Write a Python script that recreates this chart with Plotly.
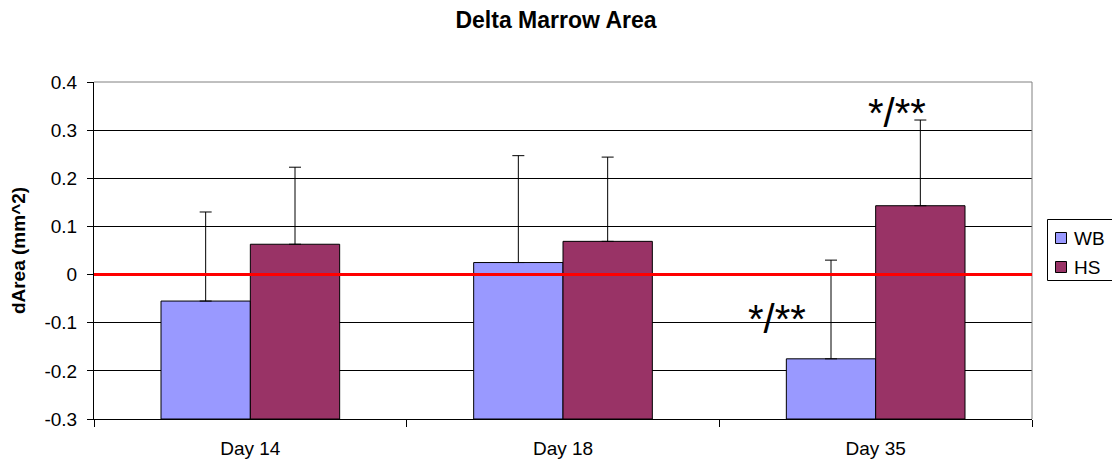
import plotly.graph_objects as go

# Delta marrow area per time point, two groups, with upper error bars
days = ["Day 14", "Day 18", "Day 35"]
wb_values = [-0.055, 0.025, -0.175]
hs_values = [0.063, 0.069, 0.143]
wb_errors = [0.185, 0.222, 0.205]
hs_errors = [0.160, 0.175, 0.178]

y_min, y_max = -0.3, 0.4
y_ticks = [-0.3, -0.2, -0.1, 0, 0.1, 0.2, 0.3, 0.4]
y_tick_labels = ["-0.3", "-0.2", "-0.1", "0", "0.1", "0.2", "0.3", "0.4"]

FONT = "Liberation Sans, Arial, sans-serif"
W, H = 1112, 467
M_L, M_R, M_T, M_B = 94, 80, 82, 48

series = [
    ("WB", wb_values, wb_errors, "#9999FF"),
    ("HS", hs_values, hs_errors, "#993366"),
]


# bars rise from the bottom of the value axis, as in the spreadsheet style
def heights(values):
    return [v - y_min for v in values]


# pixel position on the page -> paper coordinates
def px(x):
    return (x - M_L) / (W - M_L - M_R)


def py(y):
    return (H - M_B - y) / (H - M_T - M_B)


fig = go.Figure()
for name, vals, errs, color in series:
    fig.add_trace(go.Bar(
        name=name,
        x=days,
        y=heights(vals),
        base=[y_min] * len(vals),
        marker=dict(color=color, line=dict(color="black", width=1)),
        error_y=dict(type="data", symmetric=False, array=errs,
                     arrayminus=[0] * len(errs),
                     color="black", thickness=1, width=6),
        hoverinfo="skip",
        showlegend=False,
    ))

fig.update_layout(
    width=W, height=H,
    margin=dict(l=M_L, r=M_R, t=M_T, b=M_B, autoexpand=False),
    paper_bgcolor="white", plot_bgcolor="white",
    barmode="group", bargap=1.5 / 3.5, bargroupgap=0,
    font=dict(family=FONT, size=19, color="black"),
    title=dict(text="<b>Delta Marrow Area</b>", x=0.5, xanchor="center",
               y=0.957, yanchor="middle", font=dict(size=23, family=FONT)),
    showlegend=False,
)

fig.update_xaxes(
    type="category", tickson="boundaries", ticks="outside", ticklen=7,
    tickcolor="black", showline=True, linecolor="black", linewidth=1,
    showgrid=False, ticklabelstandoff=12, tickfont=dict(size=19),
)
fig.update_yaxes(
    range=[y_min, y_max], tickvals=y_ticks, ticktext=y_tick_labels,
    ticks="outside", ticklen=6, tickcolor="black",
    showline=True, linecolor="black", linewidth=1,
    showgrid=True, gridcolor="black", gridwidth=1, zeroline=False,
    ticklabelstandoff=6, tickfont=dict(size=19),
    title=dict(text="<b>dArea (mm^2)</b>", font=dict(size=19), standoff=13),
)

# plot area border on the top and right edges
fig.add_shape(type="line", xref="x domain", yref="y domain",
              x0=0, x1=1, y0=1, y1=1, line=dict(color="#808080", width=1))
fig.add_shape(type="line", xref="x domain", yref="y domain",
              x0=1, x1=1, y0=0, y1=1, line=dict(color="#808080", width=1))
# red reference line at zero, drawn over the bars
fig.add_shape(type="line", xref="x domain", yref="y", layer="above",
              x0=0, x1=1, y0=0, y1=0, line=dict(color="#FF0000", width=3))

# significance markers
fig.add_annotation(x=2.068, y=0.335, text="*/**", showarrow=False,
                   font=dict(size=40, family=FONT))
fig.add_annotation(x=1.684, y=-0.093, text="*/**", showarrow=False,
                   font=dict(size=40, family=FONT))

# legend box on the right
fig.add_shape(type="rect", xref="paper", yref="paper",
              x0=px(1047.5), x1=px(1118), y0=py(280.5), y1=py(219.5),
              line=dict(color="black", width=1), fillcolor="white")
for i, (name, _, _, color) in enumerate(series):
    top = 232 + i * 29
    fig.add_shape(type="rect", xref="paper", yref="paper",
                  x0=px(1055.5), x1=px(1066.5),
                  y0=py(top + 11.5), y1=py(top + 0.5),
                  line=dict(color="black", width=1), fillcolor=color)
    fig.add_annotation(x=px(1072), y=py(top + 6), xref="paper", yref="paper",
                       text=name, showarrow=False, xanchor="left",
                       yanchor="middle", font=dict(size=19, family=FONT))

fig.write_html("out.html")
